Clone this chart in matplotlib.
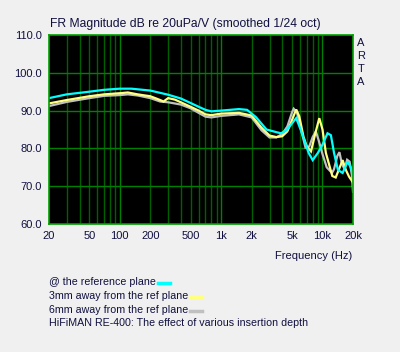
import numpy as np
import matplotlib
matplotlib.use('Agg')
from matplotlib import pyplot as plt
from matplotlib.lines import Line2D

# frequency response data (Hz, dB)
ref_f = [20, 30, 50, 70, 100, 130, 200, 300, 400, 500, 600, 700, 800, 1000, 1500, 1800,
         2200, 2800, 3500, 3900, 4400, 4700, 5500, 6100, 7300, 8000, 9000, 10000, 11200,
         12100, 13000, 14200, 15800, 17700, 19000, 20000]
ref_db = [93.3, 94.3, 95.0, 95.5, 95.8, 95.8, 95.3, 94.2, 93.2, 92.0, 91.0, 90.2, 89.8, 90.0,
          90.4, 90.2, 88.3, 85.0, 84.3, 84.0, 84.8, 85.7, 88.0, 84.9, 78.8, 76.9, 78.8, 81.0,
          84.0, 83.5, 78.8, 74.3, 73.5, 76.5, 75.0, 73.0]

mm3_f = [20, 30, 50, 70, 100, 120, 150, 200, 250, 270, 300, 350, 400, 500, 600, 700, 800,
         1000, 1500, 2000, 2500, 3000, 3500, 4000, 4500, 5000, 5500, 5900, 6500, 7000, 7700,
         8500, 9300, 10000, 10800, 12500, 13500, 15800, 17000, 18300, 20000]
mm3_db = [91.9, 92.8, 93.8, 94.3, 94.6, 94.8, 94.3, 93.8, 92.8, 92.4, 93.3, 92.9, 92.2, 91.0,
          90.0, 89.0, 88.8, 89.2, 89.4, 88.7, 85.5, 83.4, 83.0, 83.2, 84.5, 87.5, 90.3, 88.5,
          83.0, 80.5, 79.2, 84.0, 88.0, 85.0, 78.8, 72.7, 72.3, 76.9, 74.3, 72.5, 71.0]

mm6_f = [20, 30, 50, 70, 100, 120, 150, 200, 250, 300, 400, 500, 600, 700, 800, 1000, 1500,
         2000, 2500, 3000, 3500, 4000, 4500, 5000, 5200, 5600, 6200, 6800, 7400, 8000, 8600,
         9200, 10000, 11000, 12400, 13000, 14000, 14700, 15500, 16500, 17500, 18500, 19500,
         20000]
mm6_db = [91.2, 92.3, 93.3, 93.9, 94.1, 94.3, 94.0, 93.3, 92.4, 92.2, 91.6, 90.6, 89.4, 88.4,
          88.2, 88.6, 89.0, 88.2, 84.8, 82.9, 82.9, 83.8, 85.8, 89.5, 90.5, 89.5, 84.5, 80.2,
          80.5, 83.0, 84.5, 82.0, 78.5, 75.0, 73.5, 74.5, 78.0, 79.0, 76.0, 74.5, 77.0, 76.5,
          73.0, 68.5]

xticks = [20, 50, 100, 200, 500, 1000, 2000, 5000, 10000, 20000]
xlabels = ['20', '50', '100', '200', '500', '1k', '2k', '5k', '10k', '20k']
yticks = [60, 70, 80, 90, 100, 110]

series = [
    ('@ the reference plane', ref_f, ref_db, '#00ffff'),
    ('3mm away from the ref plane', mm3_f, mm3_db, '#ffff80'),
    ('6mm away from the ref plane', mm6_f, mm6_db, '#c0c0c0'),
]

plt.rcParams['font.family'] = ['Liberation Sans', 'DejaVu Sans']
txt = '#101040'
fs = 8

fig = plt.figure(figsize=(4, 3.52), dpi=100, facecolor='#f0f0f0')
ax = fig.add_axes([49 / 400, 1 - 224 / 352, 304 / 400, 189 / 352])
ax.set_facecolor('black')
ax.set_xscale('log')
ax.set_xlim(20, 20000)
ax.set_ylim(60, 110)

# grid lines
minor = [f * m for f in [10, 100, 1000, 10000] for m in range(2, 10) if 20 < f * m < 20000]
for f in minor:
    ax.axvline(f, color='#006000', lw=1)
for f in [100, 1000, 10000]:
    ax.axvline(f, color='#008000', lw=1)
for y in yticks[1:-1]:
    ax.axhline(y, color='#008000', lw=1)

# gray first, cyan on top
for name, f, db, c in series[::-1]:
    ax.plot(f, db, color=c, lw=1.6, solid_joinstyle='miter')

for s in ax.spines.values():
    s.set_color('#00a000')
    s.set_linewidth(1.2)

ax.set_xticks(xticks)
ax.set_xticklabels(xlabels)
ax.set_xticks([], minor=True)
ax.set_yticks(yticks)
ax.set_yticklabels(['%.1f' % y for y in yticks])
ax.tick_params(length=0, labelsize=fs, colors=txt, pad=5)

fig.text(50 / 400, 1 - 24 / 352, 'FR Magnitude dB re 20uPa/V (smoothed 1/24 oct)',
         fontsize=8.7, color=txt, va='center', ha='left')
fig.text(352 / 400, 1 - 256 / 352, 'Frequency (Hz)', fontsize=fs, color=txt,
         va='center', ha='right')
for i, ch in enumerate('ARTA'):
    fig.text(361 / 400, 1 - (43 + 13 * i) / 352, ch, fontsize=fs, color=txt,
             va='center', ha='center')

# legend text with colour sample after it
lfs = 7.7
fig.canvas.draw()
r = fig.canvas.get_renderer()
ys = [282, 296, 310]
for (name, f, db, c), y in zip(series, ys):
    t = fig.text(49 / 400, 1 - y / 352, name, fontsize=lfs, color=txt, va='center', ha='left')
    bb = t.get_window_extent(r)
    x0 = bb.x1 + 2
    fig.add_artist(Line2D([x0 / 400, (x0 + 12) / 400], [1 - (y + 1) / 352] * 2,
                          color=c, lw=2.5, transform=fig.transFigure))
fig.text(49 / 400, 1 - 323 / 352, 'HiFiMAN RE-400: The effect of various insertion depth',
         fontsize=lfs, color=txt, va='center', ha='left')

fig.savefig('out.png', dpi=100, facecolor=fig.get_facecolor())
